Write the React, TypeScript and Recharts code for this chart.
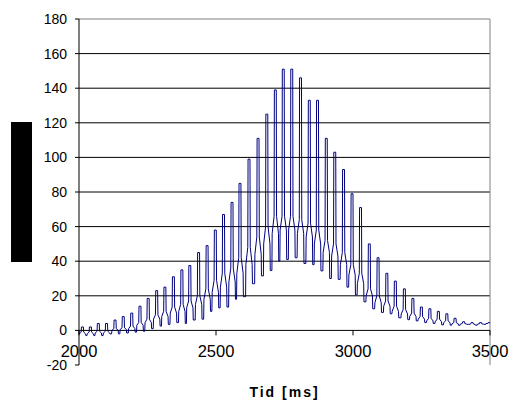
import { LineChart, Line, XAxis, YAxis, CartesianGrid, ReferenceLine } from 'recharts'

// one entry per pulse (ms / value)
const pulseStart = [
  2009, 2038, 2067, 2097, 2128, 2158, 2189, 2219, 2249, 2280,
  2310, 2341, 2372, 2401, 2433, 2464, 2494, 2524, 2555, 2584,
  2617, 2650, 2682, 2713, 2742, 2773, 2805, 2837, 2867, 2899,
  2930, 2962, 2993, 3024, 3056, 3088, 3120, 3151, 3184, 3215,
  3246, 3277, 3308, 3339, 3369, 3400, 3431, 3462, 3493,
]
const pulsePeak = [
  2, 2, 4, 4, 6, 8, 10, 14, 18.5, 23,
  25, 31, 35, 37.5, 45, 49, 58, 67, 74, 85,
  99, 111, 125, 139, 151, 151, 146, 133, 133, 111,
  103, 93, 79, 71, 50, 42, 33, 28.5, 24, 18.5,
  13.5, 12.5, 11, 9.6, 7, 5, 4.5, 4.5, 4.5,
]
// upper and lower end of the knee on each flank
const kneeHigh = [
  -1, -1, -0.5, -0.5, 1, 1.5, 2.5, 4.5, 6.5, 9,
  11, 13.5, 15, 17, 20, 24, 29, 33, 36, 42,
  48, 54, 60, 66, 66, 66, 64, 62, 58, 52,
  50, 45, 38, 33, 24, 20, 17, 14, 12, 10,
  8, 7, 6.5, 5.5, 4.5, 4, 3.8, 3.8, 4,
]
const kneeLow = [
  -2, -2, -1.5, -1.5, 0, 0.5, 1, 3, 4.5, 6.5,
  8, 10, 11, 13, 15, 18, 22, 25, 28, 33,
  38, 44, 50, 56, 58, 58, 56, 54, 50, 45,
  43, 38, 32, 27, 20, 16, 14, 11, 9.5, 8,
  6.5, 5.5, 5, 4.5, 3.8, 3.6, 3.4, 3.6, 4,
]
const pulseLow = [
  -3, -3, -3, -2, -2, -1.5, -1, -0.5, 1, 2.5,
  3.5, 4.5, 4, 6, 6.5, 11, 13, 13.5, 18, 19.5,
  27, 31.5, 34.6, 40, 41, 42, 38.7, 38, 34.4, 30,
  29.5, 25, 20.5, 16.5, 12.5, 10.4, 9.6, 7.3, 6.2, 5.5,
  4.5, 4, 3.2, 3, 3, 3.5, 3, 3.5, 4,
]
const startLevel = -1

const xTicks = [2000, 2500, 3000, 3500]
const yTicks = [-20, 0, 20, 40, 60, 80, 100, 120, 140, 160, 180]
const gridValues = [20, 40, 60, 80, 100, 120, 140, 160]

const X_MIN = 2000, X_MAX = 3500, Y_MIN = -20, Y_MAX = 180

// outline of one pulse, offsets in ms from the rising edge of the top
const data: { t: number; v: number }[] = [{ t: X_MIN, v: startLevel }]
pulseStart.forEach((s, i) => {
  const before = i === 0 ? startLevel : pulseLow[i - 1]
  data.push(
    { t: s - 9, v: before },
    { t: s - 8, v: kneeLow[i] },
    { t: s - 1, v: kneeHigh[i] },
    { t: s, v: pulsePeak[i] },
    { t: s + 7, v: pulsePeak[i] },
    { t: s + 8, v: kneeHigh[i] },
    { t: s + 15, v: kneeLow[i] },
    { t: s + 16, v: pulseLow[i] },
  )
})
const series = data.filter(p => p.t >= X_MIN && p.t <= X_MAX)

const TOP = 19
const PLOT_H = 346
const zeroY = TOP + (PLOT_H * (Y_MAX - 0)) / (Y_MAX - Y_MIN)

function XTick({ x, payload }: any) {
  return (
    <g>
      <line x1={x} x2={x} y1={zeroY} y2={zeroY + 5} stroke="#000" />
      <text x={x} y={zeroY + 27} textAnchor="middle" fontSize={16.5} fill="#000">
        {payload.value}
      </text>
    </g>
  )
}

export default function App() {
  return (
    <div style={{ position: 'absolute', left: 0, top: 0, width: 519, height: 403, background: '#fff',
      fontFamily: '"Liberation Sans", Arial, sans-serif' }}>
      <div style={{ position: 'absolute', left: 11, top: 122, width: 21, height: 140, background: '#000' }} />
      <LineChart width={519} height={403} data={series}
        margin={{ top: TOP, right: 29, left: 0, bottom: 0 }}>
        <CartesianGrid vertical={false} horizontalValues={gridValues} stroke="#000" />
        <XAxis dataKey="t" type="number" domain={[X_MIN, X_MAX]} ticks={xTicks} interval={0}
          height={38} axisLine={false} tickLine={false} tick={<XTick />}
          label={{ value: 'Tid [ms]', position: 'insideBottom', offset: 6, fontSize: 14,
            fontWeight: 'bold', letterSpacing: 2, fill: '#000' }} />
        <YAxis type="number" domain={[Y_MIN, Y_MAX]} ticks={yTicks} interval={0} width={79}
          tickSize={4} tickMargin={8} axisLine={{ stroke: '#000' }} tickLine={{ stroke: '#000' }}
          tick={{ fontSize: 14, fill: '#000' }} />
        <ReferenceLine y={Y_MAX} stroke="#808080" />
        <ReferenceLine x={X_MAX} stroke="#808080" />
        <ReferenceLine y={0} stroke="#000" />
        <Line type="linear" dataKey="v" stroke="#000080" strokeWidth={1} dot={false}
          isAnimationActive={false} />
      </LineChart>
    </div>
  )
}
